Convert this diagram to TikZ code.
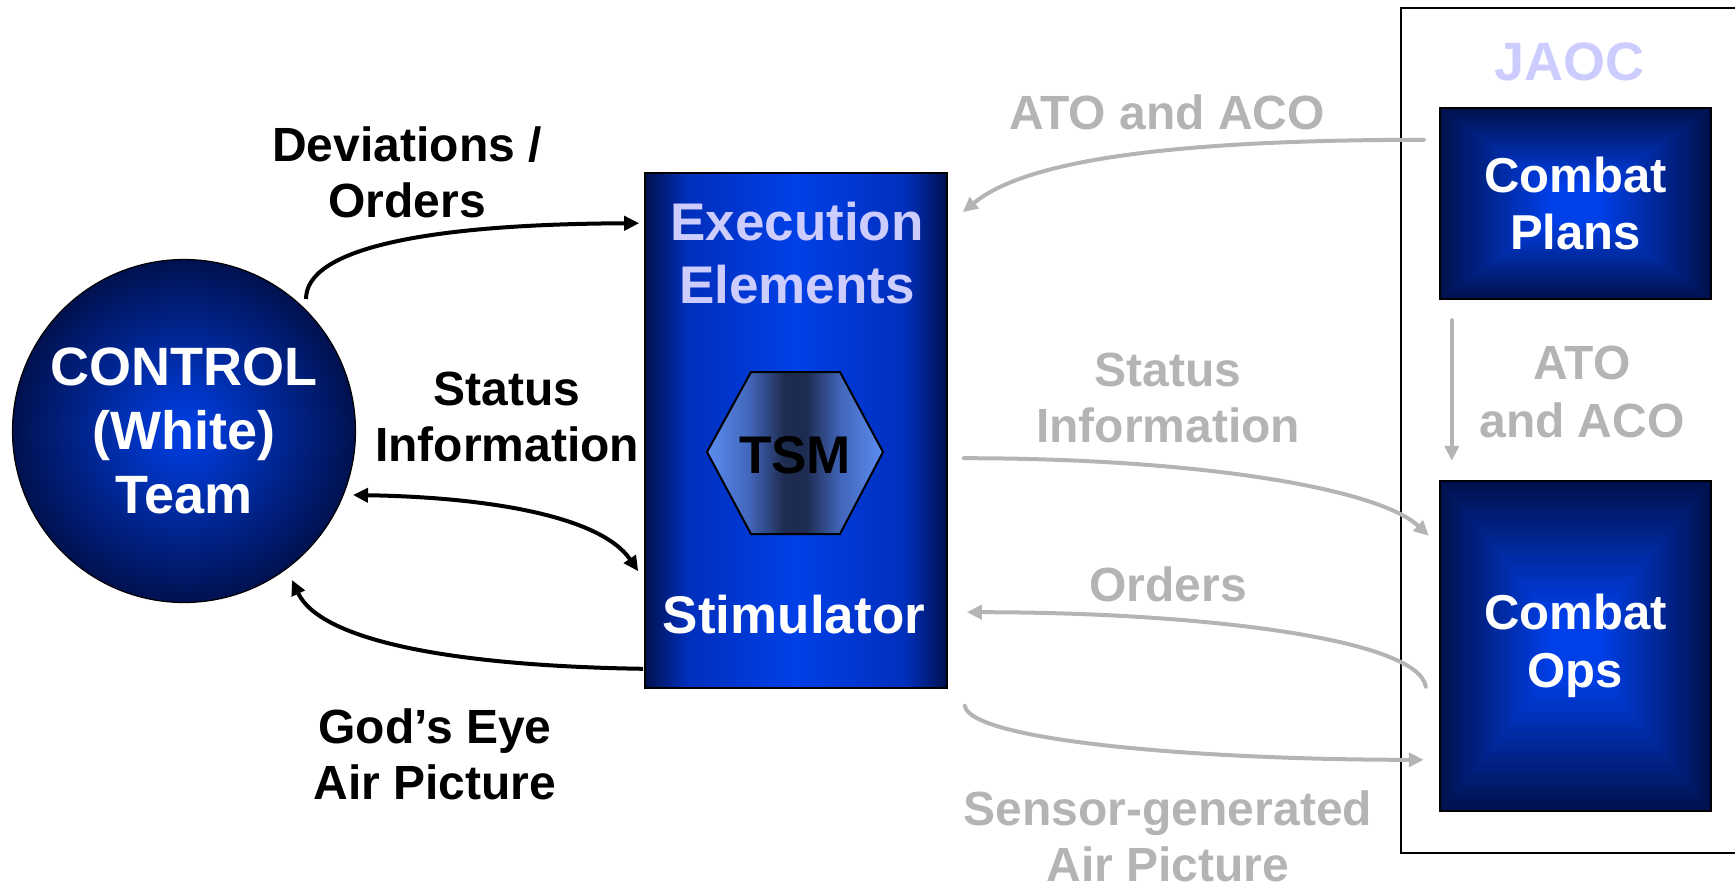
\documentclass[tikz,border=0pt]{standalone}
\usepackage{fontspec}
\setmainfont{Liberation Sans}
\usetikzlibrary{arrows.meta,calc}

\definecolor{navyd}{HTML}{00114F}
\definecolor{bluec}{HTML}{0040E8}
\definecolor{bluem}{HTML}{002FBC}
\definecolor{lav}{HTML}{CCCCFF}
\definecolor{lgray}{HTML}{B4B4B4}
\definecolor{tsml}{HTML}{5C8EF2}
\definecolor{tsmm}{HTML}{4266BA}
\definecolor{tsmd}{HTML}{1E2B50}

% dark edges, bright middle
\pgfdeclarehorizontalshading{execshade}{100bp}{color(0bp)=(navyd); color(25bp)=(navyd); color(32bp)=(bluem); color(50bp)=(bluec); color(68bp)=(bluem); color(75bp)=(navyd); color(100bp)=(navyd)}
% light edges, dark middle band
\pgfdeclarehorizontalshading{tsmshade}{100bp}{color(0bp)=(tsml); color(25bp)=(tsml); color(37bp)=(tsmm); color(47bp)=(tsmd); color(53bp)=(tsmd); color(63bp)=(tsmm); color(75bp)=(tsml); color(100bp)=(tsml)}

\begin{document}
\begin{tikzpicture}[x=0.5pt,y=-0.5pt,
  lbl/.style={font=\bfseries\fontsize{24}{28}\selectfont, align=center, inner sep=0pt},
  glbl/.style={lbl, text=lgray},
  boxtxt/.style={font=\bfseries\fontsize{26.5}{31.5}\selectfont, align=center, inner sep=0pt},
  tip/.style={-{Triangle[length=7.5pt,width=7pt]}},
  blk/.style={draw=black, line width=2pt, tip},
  gry/.style={draw=lgray, line width=2pt, line cap=round, tip},
  % rectangular gradient: nested rectangles from dark rim to bright centre
  cbox/.style={rectangle, inner sep=0pt, draw=black, line width=1.2pt,
    path picture={
      \foreach \i in {0,...,29}{
        \pgfmathsetmacro\fr{\i/60}
        \pgfmathsetmacro\mix{min(100,\i*100/24)}
        \fill[bluec!\mix!navyd]
          ($(path picture bounding box.north west)!\fr!(path picture bounding box.south east)$)
          rectangle
          ($(path picture bounding box.south east)!\fr!(path picture bounding box.north west)$);
      }
    },
    text=white, font=\bfseries\fontsize{24.5}{28.8}\selectfont, align=center}
]
\useasboundingbox (0,0) rectangle (1735,890);

% JAOC frame, open at the right edge
\draw[line width=1pt] (1736,8) -- (1401,8) -- (1401,853) -- (1736,853);
\node[font=\bfseries\fontsize{27}{30}\selectfont, text=lav] (jaoc) at (1569,62) {JAOC};

% control team
\node[circle, minimum size=171.5pt, inner sep=0pt, inner color=bluec, outer color=navyd,
      draw=black, line width=0.6pt, text=white, align=center,
      font=\bfseries\fontsize{27}{32}\selectfont] (ctrl) at (184,431) {CONTROL\\(White)\\Team};

% execution elements / stimulator
\node[rectangle, minimum width=151pt, minimum height=257.5pt, inner sep=0pt,
      shading=execshade, draw=black, line width=0.8pt] (exec) at (796,430.5) {};
\node[boxtxt, text=lav] (execlbl) at (797,253) {Execution\\Elements};
\node[boxtxt, text=white] (stim) at (794,615) {Stimulator};
\draw[black, line width=1pt, shading=tsmshade]
  (707,452) -- (751,372) -- (840,372) -- (883,452) -- (840,534) -- (751,534) -- cycle;
\node[boxtxt, text=black] (tsm) at (795,455) {TSM};

% JAOC cells
\node[cbox, minimum width=135.5pt, minimum height=95.5pt] (plans) at (1575.5,203.5) {Combat\\Plans};
\node[cbox, minimum width=135.5pt, minimum height=165pt] (ops) at (1575.5,646) {Combat\\Ops};

% labels
\node[lbl] (devlbl) at (407,172) {Deviations /\\Orders};
\node[lbl] (stlbl) at (507,417) {Status\\Information};
\node[lbl] (godlbl) at (435,754) {God’s Eye\\Air Picture};
\node[glbl] (atolbl) at (1167,112) {ATO and ACO};
\node[glbl, font=\bfseries\fontsize{24}{28.8}\selectfont] (atolbl2) at (1582,392) {ATO\\and ACO};
\node[glbl] (sirlbl) at (1168,398) {Status\\Information};
\node[glbl] (ordlbl) at (1168,584) {Orders};
\node[glbl] (senlbl) at (1168,836) {Sensor-generated\\Air Picture};

% control <-> execution
\draw[blk] ($(ctrl.center)+(122,-132)$) .. controls +(0,-49) and +(-220,1) .. ($(exec.north west)+(-5,51)$);
\draw[blk, {Triangle[length=7.5pt,width=7pt]}-{Triangle[length=7.5pt,width=7pt]}]
  ($(ctrl.center)+(169,64)$) .. controls +(127,2) and +(-39,-57) .. ($(exec.north west)+(-6,399)$);
\draw[blk] ($(exec.south west)+(-1,-20)$) .. controls +(-194,-3) and +(28,60) .. ($(ctrl.center)+(108,149)$);

% execution <-> JAOC
\draw[gry] ($(plans.north west)+(-15,33)$) .. controls +(-275,0) and +(58,-48) .. ($(exec.north east)+(15,40)$);
\draw[gry] ($(exec.north east)+(16,286)$) .. controls +(237,0) and +(-50,-47) .. ($(ops.north west)+(-10,56)$);
\draw[gry] ($(ops.north west)+(-13,207)$) .. controls +(-7,-48) and +(234,0) .. ($(exec.north east)+(19,440)$);
\draw[gry] ($(exec.south east)+(17,17)$) .. controls +(6,35) and +(-225,0) .. ($(ops.north west)+(-15,280)$);
\draw[gry] ($(plans.south west)+(13,20)$) -- ($(ops.north west)+(13,-19)$);
\end{tikzpicture}
\end{document}
